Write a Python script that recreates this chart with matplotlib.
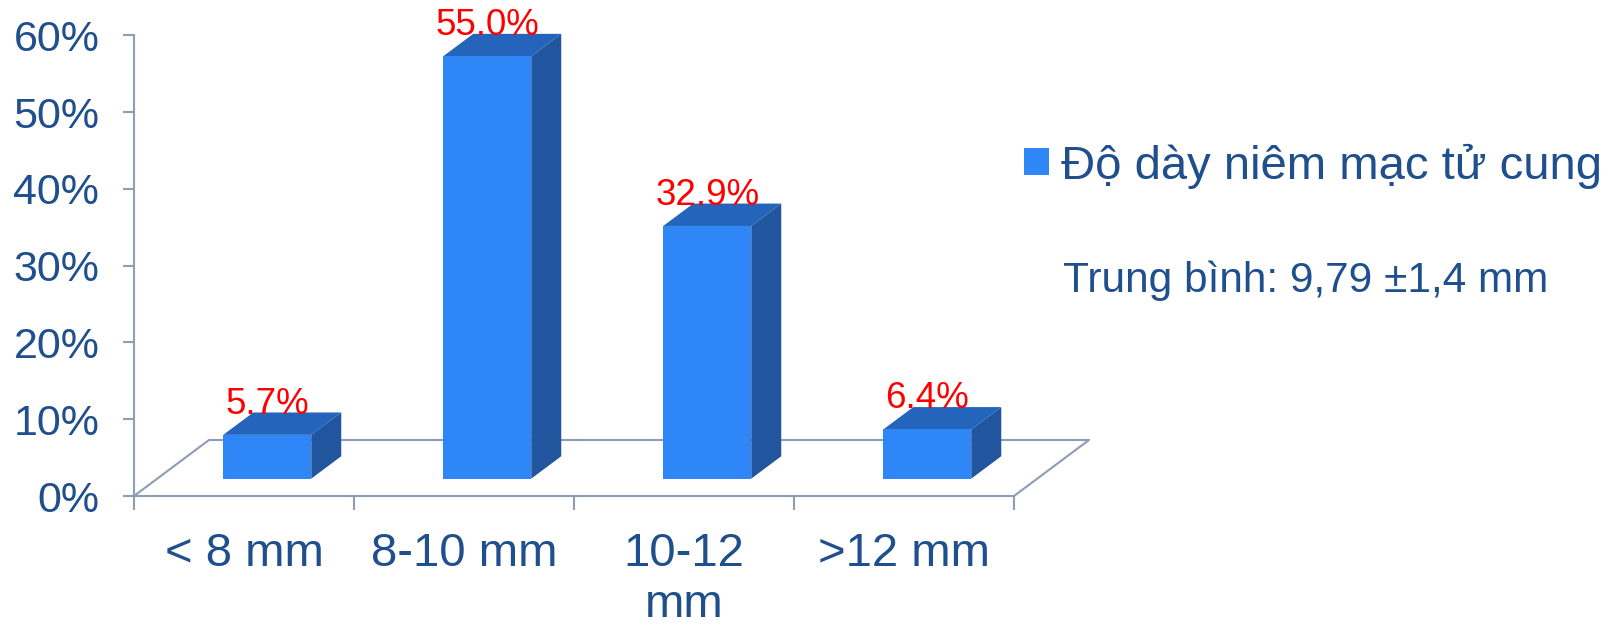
import matplotlib
matplotlib.use('Agg')
import matplotlib.pyplot as plt
from matplotlib.patches import Polygon
import numpy as np

plt.rcParams['font.family'] = ['Liberation Sans', 'DejaVu Sans']

# data
categories = ['< 8 mm', '8-10 mm', '10-12\nmm', '>12 mm']
values = [5.7, 55.0, 32.9, 6.4]
yticks = [0, 10, 20, 30, 40, 50, 60]
ytick_labels = ['0%', '10%', '20%', '30%', '40%', '50%', '60%']
series_name = 'Độ dày niêm mạc tử cung'
note = 'Trung bình: 9,79 ±1,4 mm'

front_col = '#2F87F7'
side_col = '#21569E'
top_col = '#2464BA'
axis_col = '#8E9CB8'
text_col = '#1F4F8C'

W, H = 1620, 628
fig = plt.figure(figsize=(W / 100, H / 100), dpi=100)
ax = fig.add_axes([134 / W, 1 - 496 / H, 957 / W, 496 / H])
ax.set_xlim(-0.5, -0.5 + 957 / 220)
ax.set_ylim(0, 496 / 76.8 * 10)

# pseudo 3d depth of the floor (in data units)
depth_x = 75 / 220
depth_y = 56 / 76.8 * 10
z0, z1 = 0.31, 0.71
bw = 0.4
n = len(categories)

# floor outline
ax.plot([-0.5, -0.5 + depth_x, n - 0.5 + depth_x, n - 0.5],
        [0, depth_y, depth_y, 0], color=axis_col, lw=1.5, zorder=1,
        clip_on=False)

x = np.arange(n)
fx = x + z0 * depth_x
fb = z0 * depth_y
ddx = (z1 - z0) * depth_x
ddy = (z1 - z0) * depth_y

ax.bar(fx, values, width=bw, bottom=fb, color=front_col, zorder=4,
       label=series_name)
for xi, v in zip(fx, values):
    l, r = xi - bw / 2, xi + bw / 2
    t = fb + v
    side = Polygon([(r, fb), (r, t), (r + ddx, t + ddy), (r + ddx, fb + ddy)],
                   closed=True, facecolor=side_col, edgecolor='none', zorder=3)
    top = Polygon([(l, t), (r, t), (r + ddx, t + ddy), (l + ddx, t + ddy)],
                  closed=True, facecolor=top_col, edgecolor='none', zorder=3)
    ax.add_patch(side)
    ax.add_patch(top)
    ax.text(xi, t + ddy - 0.15, f'{v:.1f}%', color='red', fontsize=26.5,
            ha='center', va='baseline', zorder=5)

for s in ['top', 'right']:
    ax.spines[s].set_visible(False)
ax.spines['left'].set_bounds(0, 60)
ax.spines['bottom'].set_bounds(-0.5, n - 0.5)
for s in ['left', 'bottom']:
    ax.spines[s].set_color(axis_col)
    ax.spines[s].set_linewidth(1.5)

ax.set_yticks(yticks, ytick_labels)
ax.tick_params(axis='y', length=8, width=1.5, color=axis_col,
               labelcolor=text_col, labelsize=31, pad=17)

ax.set_xticks(np.arange(n + 1) - 0.5, [''] * (n + 1))
ax.set_xticks(x, categories, minor=True)
ax.tick_params(axis='x', which='major', length=10, width=1.5, color=axis_col)
ax.tick_params(axis='x', which='minor', length=0, labelcolor=text_col,
               labelsize=34, pad=26)
for lab in ax.get_xticklabels(minor=True):
    lab.set_linespacing(1.2)

ax.legend(loc='center left', bbox_to_anchor=(1024 / W, 1 - 166 / H),
          bbox_transform=fig.transFigure, frameon=False, fontsize=34,
          handlelength=0.53, handleheight=0.5, handletextpad=0.25,
          borderpad=0, borderaxespad=0, labelcolor=text_col)

fig.text(1063 / W, 1 - 292 / H, note, fontsize=30.5, color=text_col,
         va='baseline')

fig.savefig('out.png', dpi=100)
